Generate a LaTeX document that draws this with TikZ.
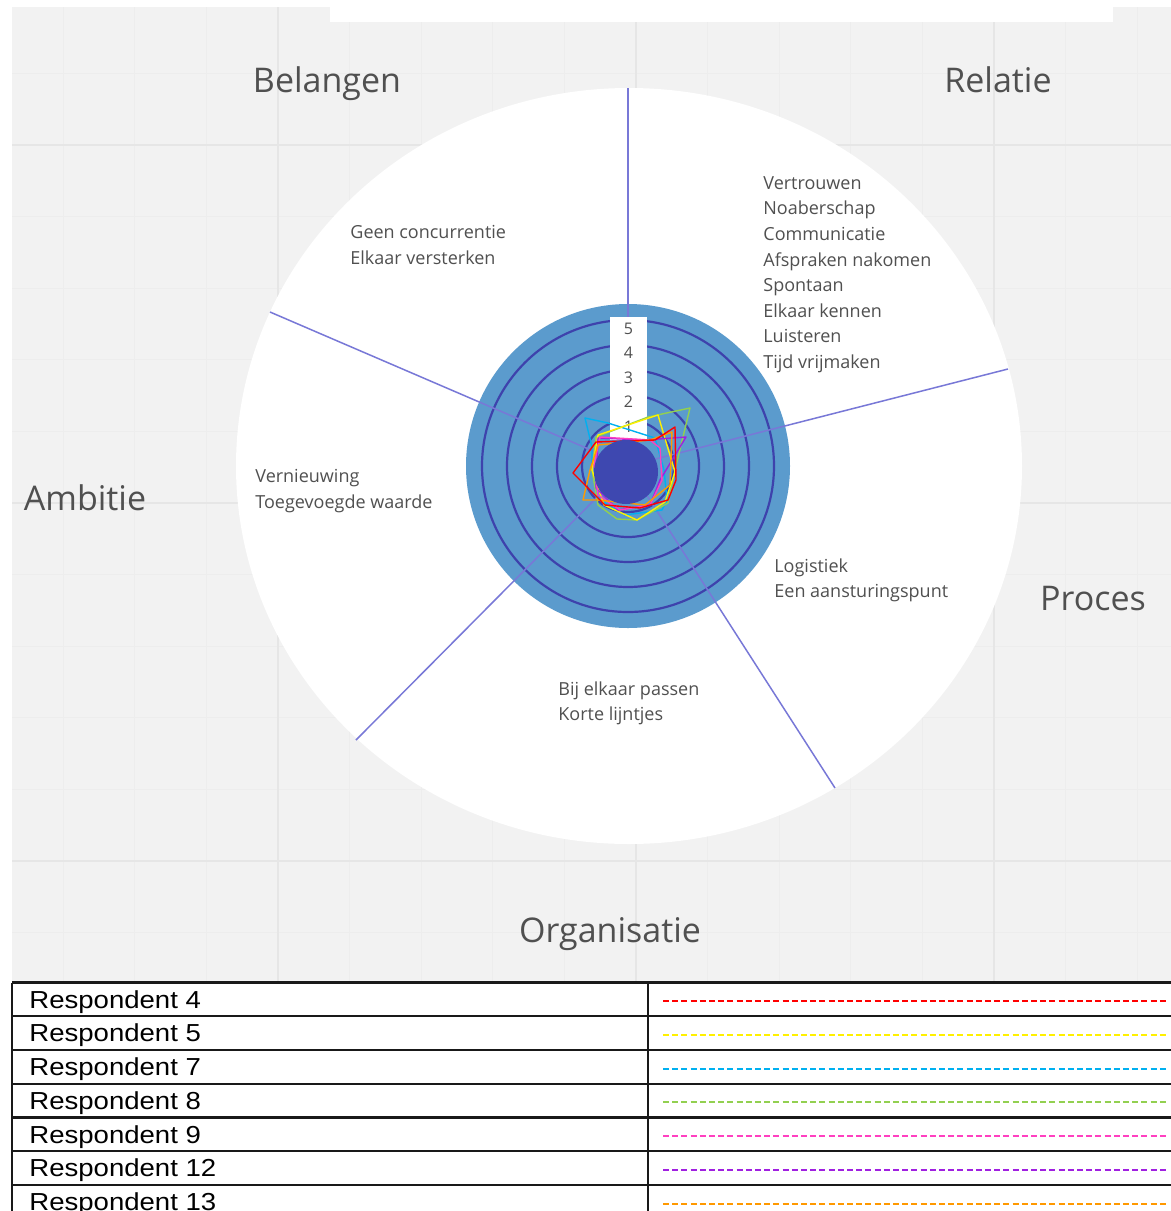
\documentclass[tikz,border=0pt]{standalone}
\usepackage{fontspec}
\setmainfont{Open Sans}
\newfontfamily\legendfont[FakeStretch=1.12]{Liberation Sans}
\usetikzlibrary{positioning}
\definecolor{cbg}{RGB}{242,242,242}
\definecolor{cgrid}{RGB}{237,237,237}
\definecolor{cgridmajor}{RGB}{230,230,230}
\definecolor{cdisc}{RGB}{91,155,205}
\definecolor{cring}{RGB}{62,66,172}
\definecolor{cspoke}{RGB}{120,120,215}
\definecolor{ccore}{RGB}{62,72,176}
\definecolor{ctext}{RGB}{80,80,80}
\definecolor{cr4}{RGB}{255,0,0}
\definecolor{cr5}{RGB}{255,240,0}
\definecolor{cr7}{RGB}{0,176,240}
\definecolor{cr8}{RGB}{146,208,80}
\definecolor{cr9}{RGB}{255,64,192}
\definecolor{cr12}{RGB}{160,32,224}
\definecolor{cr13}{RGB}{255,153,0}

\begin{document}
\begin{tikzpicture}[x=0.5pt, y=-0.5pt,
    spoke/.style={cspoke, line width=0.75pt},
    ring/.style={cring, line width=1.1pt},
    category/.style={ctext, anchor=base, font=\fontsize{17pt}{20pt}\selectfont},
    sector/.style={ctext, align=left, anchor=north west, inner sep=0pt, font=\fontsize{9pt}{12.8pt}\selectfont},
    answer/.style={line width=0.7pt, line join=round},
    rowline/.style={black!90, line width=1.1pt}]
  \useasboundingbox (0, 0) rectangle (1171, 1211);
  \fill [white] (0, 0) rectangle (1171, 1211);

  % board background
  \fill [cbg] (12, 7) rectangle (1171, 981);
  \foreach \k in {0, ..., 15}
    \draw [cgrid, line width=0.5pt] (63.2 + 71.6*\k, 7) -- (63.2 + 71.6*\k, 981);
  \foreach \k in {0, ..., 12}
    \draw [cgrid, line width=0.5pt] (12, 73.4 + 71.6*\k) -- (1171, 73.4 + 71.6*\k);
  \foreach \k in {0, 1, 2} {
    \draw [cgridmajor, line width=0.8pt] (278.2 + 358*\k, 7) -- (278.2 + 358*\k, 981);
    \draw [cgridmajor, line width=0.8pt] (12, 145 + 358*\k) -- (1171, 145 + 358*\k);
  }
  \fill [white] (330, 0) rectangle (1113, 22);

  \node (belangen) at (327, 92) [category] {Belangen};
  \node (relatie) at (998, 92) [category] {Relatie};
  \node (ambitie) at (85, 510) [category] {Ambitie};
  \node (proces) at (1093, 610) [category] {Proces};
  \node (organisatie) at (610, 942) [category] {Organisatie};

  \coordinate (c) at (628, 466);
  \fill [white] (629, 466) ellipse [x radius=393, y radius=378];

  \node (belTxt) at (350, 225) [sector] {Geen concurrentie\\Elkaar versterken};
  \node (relTxt) at (763, 176) [sector] {Vertrouwen\\Noaberschap\\Communicatie\\Afspraken nakomen\\Spontaan\\Elkaar kennen\\Luisteren\\Tijd vrijmaken};
  \node (ambTxt) at (255, 469) [sector] {Vernieuwing\\Toegevoegde waarde};
  \node (proTxt) at (774, 558) [sector] {Logistiek\\Een aansturingspunt};
  \node (orgTxt) at (558, 681) [sector] {Bij elkaar passen\\Korte lijntjes};

  % radar
  \fill [cdisc] (c) circle [radius=162];
  \foreach \r in {46, 71, 96, 121, 146}
    \draw [ring] (c) circle [radius=\r];

  \coordinate (bel-rel) at (628, 88);
  \coordinate (rel-pro) at (1008, 369);
  \coordinate (pro-org) at (835, 788);
  \coordinate (org-amb) at (356, 740);
  \coordinate (amb-bel) at (270, 312);
  \foreach \e in {bel-rel, rel-pro, pro-org, org-amb, amb-bel}
    \draw [spoke] (c) -- (\e);

  \fill [white] (610, 317) rectangle (647, 440);
  \foreach \v/\y in {5/329, 4/353, 3/378, 2/402, 1/427}
    \node (tick\v) at (628.5, \y) [ctext, font=\fontsize{8pt}{9pt}\selectfont] {\v};

  \draw [answer, cr7] (585, 418) -- (608, 423) -- (655, 438) -- (664, 470) -- (667, 500) -- (662, 510) -- (625, 515) -- (600, 500) -- (592, 470) -- (592, 447) -- cycle;
  \draw [answer, cr8] (690, 408) -- (648, 417) -- (596, 437) -- (592, 470) -- (598, 505) -- (617, 519) -- (637, 520) -- (668, 503) -- (675, 470) -- cycle;
  \draw [answer, cr5] (598, 435) -- (658, 415) -- (675, 472) -- (665, 502) -- (637, 520) -- (604, 505) -- (592, 470) -- cycle;
  \draw [answer, cr12] (598, 438) -- (645, 440) -- (686, 437) -- (660, 480) -- (650, 505) -- (618, 510) -- (596, 488) -- cycle;
  \draw [answer, cr9] (600, 437) -- (650, 440) -- (660, 448) -- (662, 480) -- (650, 505) -- (620, 510) -- (598, 495) -- (594, 465) -- cycle;
  \draw [answer, cr13] (583, 500) -- (590, 470) -- (598, 445) -- (650, 440) -- (672, 432) -- (670, 485) -- (645, 505) -- (598, 500) -- cycle;
  \draw [answer, cr4] (573, 473) -- (596, 442) -- (655, 440) -- (675, 427) -- (676, 480) -- (668, 500) -- (640, 508) -- (605, 505) -- (590, 490) -- cycle;
  \fill [ccore] (626, 472) circle [radius=32];

  % legend
  \foreach \i in {0, ..., 6}
    \draw [rowline] (12, 982.5 + 33.75*\i) -- (1171, 982.5 + 33.75*\i);
  \draw [rowline] (12, 982.5) -- (12, 1211);
  \draw [rowline, line width=1.4pt] (648, 982.5) -- (648, 1211);
  \foreach \n/\col [count=\i from 0] in {4/cr4, 5/cr5, 7/cr7, 8/cr8, 9/cr9, 12/cr12, 13/cr13} {
    \node (resp\n) at (29, 1008 + 33.75*\i) [anchor=base west, inner sep=0pt, font=\legendfont\fontsize{12.3pt}{14pt}\selectfont] {Respondent \n};
    \draw [\col, line width=1pt, dash pattern=on 3pt off 1.6pt] (663, 1001 + 33.75*\i) -- (1168, 1001 + 33.75*\i);
  }
\end{tikzpicture}
\end{document}
